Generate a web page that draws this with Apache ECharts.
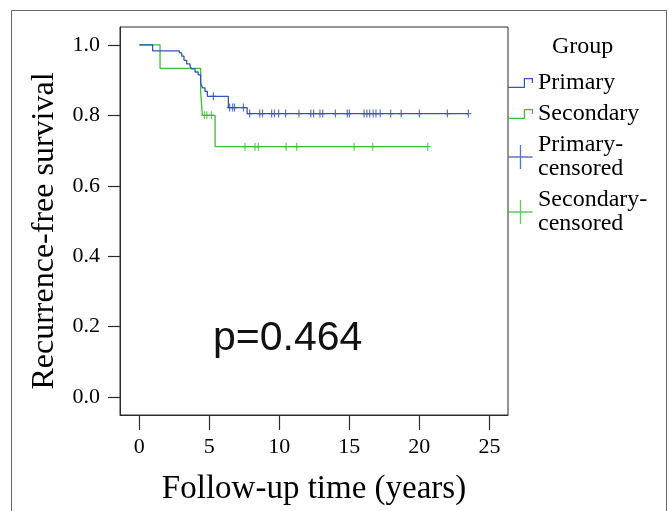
<!DOCTYPE html>
<html>
<head>
<meta charset="utf-8">
<script src="https://cdn.jsdelivr.net/npm/echarts@6/dist/echarts.min.js"></script>
<style>
html,body{margin:0;padding:0;background:#fff;}
#chart{width:669px;height:511px;}
</style>
</head>
<body>
<div id="chart"></div>
<script>
// ---- Data ----
const xTicks = [0, 5, 10, 15, 20, 25];
const yTicks = [0, 0.2, 0.4, 0.6, 0.8, 1.0];

const primaryTimes = [0, 0.95, 2.86, 3.03, 3.19, 3.38, 3.62, 3.74, 3.98, 4.2, 4.38, 4.52, 4.69, 4.86, 6.36, 7.7];
const primarySurv  = [1, 0.983, 0.977, 0.968, 0.956, 0.946, 0.939, 0.932, 0.923, 0.915, 0.89, 0.878, 0.868, 0.854, 0.822, 0.805];
const primaryCensor = [5.29, 6.45, 6.67, 6.8, 7.43, 7.88, 8.6, 8.8, 9.45, 9.65, 9.95, 10.45, 11.4, 12.25, 12.45, 12.9, 13.1, 14.0, 14.85, 15.0, 16.05, 16.25, 16.45, 16.7, 16.9, 17.2, 17.95, 18.7, 20.0, 22.0, 23.5];

const secondaryTimes = [0, 1.48, 4.38, 4.5, 5.41];
const secondarySurv  = [1, 0.933, 0.867, 0.8, 0.711];
const secondaryCensor = [4.65, 4.82, 5.15, 7.55, 8.26, 8.5, 10.48, 11.24, 15.34, 16.67, 20.6];

const seriesNames = ['Primary', 'Secondary', 'Primary-\ncensored', 'Secondary-\ncensored'];
const pValueText = 'p=0.464';

// ---- helpers ----
function survAt(times, surv, t) {
  let s = surv[0];
  for (let i = 0; i < times.length; i++) if (times[i] <= t) s = surv[i];
  return s;
}
function curve(times, surv, cens) {
  const d = times.map((t, i) => [t, surv[i]]);
  const last = Math.max(...cens);
  if (last > times[times.length - 1]) d.push([last, survAt(times, surv, last)]);
  return d;
}
function censPoints(times, surv, cens) {
  return cens.map(t => [t, survAt(times, surv, t)]);
}

const BLUE = '#3553b8';
const GREEN = '#3cbc3c';
const SERIF = 'Liberation Serif, Times New Roman, serif';

const stepIcon = 'path://M0,8.8 H15.8 V0 H25 V5 H23.8 V1.2 H17 V10 H0 Z';
const plusIcon = 'path://M10.85,0 H12.15 V10.85 H23 V12.15 H12.15 V23 H10.85 V12.15 H0 V10.85 H10.85 Z';
const plusMark = 'path://M2.4,0 H3.6 V3.4 H6 V4.6 H3.6 V8 H2.4 V4.6 H0 V3.4 H2.4 Z';

const chart = echarts.init(document.getElementById('chart'), null, {renderer: 'canvas'});
chart.setOption({
  animation: false,
  backgroundColor: '#fff',
  grid: {left: 120, right: 161, top: 27, bottom: 93, show: true, borderColor: '#2a2a2a', borderWidth: 1, backgroundColor: '#fff'},
  xAxis: {
    type: 'value', min: -1.38, max: 26.33,
    axisLine: {show: true, onZero: false, lineStyle: {color: '#2a2a2a', width: 1}},
    axisTick: {show: true, length: 15, customValues: xTicks, lineStyle: {color: '#2a2a2a', width: 1.2}},
    axisLabel: {customValues: xTicks, margin: 21, fontFamily: SERIF, fontSize: 22, color: '#000'},
    splitLine: {show: false},
    name: 'Follow-up time (years)', nameLocation: 'middle', nameGap: 58,
    nameTextStyle: {fontFamily: SERIF, fontSize: 33, color: '#000'}
  },
  yAxis: {
    type: 'value', min: -0.0507, max: 1.0507,
    axisLine: {show: true, onZero: false, lineStyle: {color: '#2a2a2a', width: 1}},
    axisTick: {show: true, length: 12, customValues: yTicks, lineStyle: {color: '#2a2a2a', width: 1.2}},
    axisLabel: {customValues: yTicks, margin: 20, fontFamily: SERIF, fontSize: 22, color: '#000',
      formatter: v => v.toFixed(1)},
    splitLine: {show: false},
    name: 'Recurrence-free survival', nameLocation: 'middle', nameGap: 59, nameRotate: 90,
    nameTextStyle: {fontFamily: SERIF, fontSize: 32, color: '#000', padding: [0, 20, 0, 0]}
  },
  legend: {
    orient: 'vertical', left: 508, top: 71, padding: 0,
    itemWidth: 25, itemHeight: 24, itemGap: 7, symbolKeepAspect: true,
    selectedMode: false,
    itemStyle: {borderWidth: 0},
    textStyle: {fontFamily: SERIF, fontSize: 24, lineHeight: 24, color: '#000'},
    data: [
      {name: seriesNames[0], icon: stepIcon},
      {name: seriesNames[1], icon: stepIcon},
      {name: seriesNames[2], icon: plusIcon},
      {name: seriesNames[3], icon: plusIcon}
    ]
  },
  graphic: [
    {type: 'rect', silent: true, z: -10, shape: {x: 11.5, y: 10.5, width: 655, height: 530},
      style: {fill: 'none', stroke: '#666', lineWidth: 1}},
    {type: 'text', left: 552, top: 35, silent: true,
      style: {text: 'Group', font: '24px ' + SERIF, fill: '#000'}},
    {type: 'text', left: 213, top: 318, silent: true,
      style: {text: pValueText, font: '41px Liberation Sans, Arial, sans-serif', fill: '#111'}}
  ],
  series: [
    {name: seriesNames[0], type: 'line', step: 'end', showSymbol: false, color: BLUE,
      lineStyle: {width: 1.3, color: BLUE}, data: curve(primaryTimes, primarySurv, primaryCensor), z: 3},
    {name: seriesNames[1], type: 'line', step: 'end', showSymbol: false, color: GREEN,
      lineStyle: {width: 1.3, color: GREEN}, data: curve(secondaryTimes, secondarySurv, secondaryCensor), z: 2},
    {name: seriesNames[2], type: 'scatter', symbol: plusMark, symbolSize: [6, 8], color: BLUE,
      itemStyle: {color: BLUE}, data: censPoints(primaryTimes, primarySurv, primaryCensor), z: 4},
    {name: seriesNames[3], type: 'scatter', symbol: plusMark, symbolSize: [6, 8], color: GREEN,
      itemStyle: {color: GREEN}, data: censPoints(secondaryTimes, secondarySurv, secondaryCensor), z: 4}
  ]
});
</script>
</body>
</html>
